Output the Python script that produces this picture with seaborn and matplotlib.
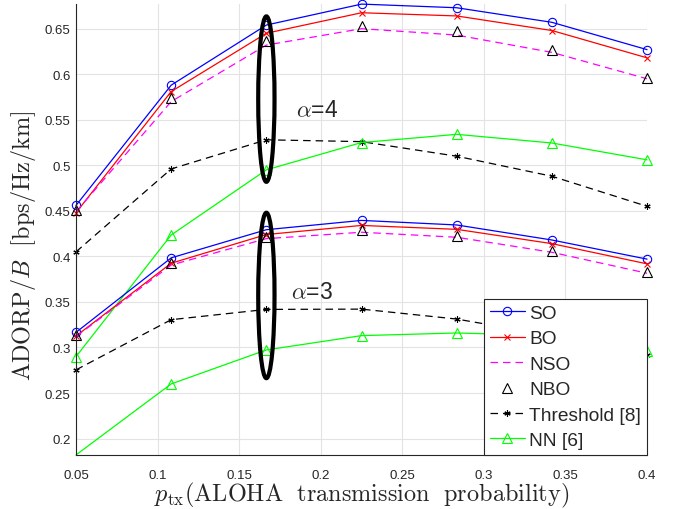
import numpy as np
import pandas as pd
import matplotlib
matplotlib.use("Agg")
import matplotlib.pyplot as plt
from matplotlib.patches import Ellipse
import seaborn as sns

# ---------------- data ----------------
p_tx = [0.05, 0.10833, 0.16667, 0.225, 0.28333, 0.34167, 0.4]

so_a4 = [0.456, 0.588, 0.654, 0.677, 0.673, 0.657, 0.627]
bo_a4 = [0.448, 0.581, 0.645, 0.6675, 0.664, 0.648, 0.618]
nso_a4 = [0.449, 0.570, 0.632, 0.650, 0.643, 0.624, 0.595]
nbo_a4 = [0.451, 0.574, 0.636, 0.653, 0.647, 0.627, 0.596]
thr_a4 = [0.405, 0.496, 0.528, 0.526, 0.510, 0.488, 0.455]
nn_a4 = [0.290, 0.4235, 0.495, 0.525, 0.534, 0.5245, 0.506]

so_a3 = [0.3166, 0.3984, 0.4293, 0.4395, 0.4345, 0.4180, 0.3970]
bo_a3 = [0.3126, 0.3925, 0.4240, 0.4340, 0.4297, 0.4140, 0.3918]
nso_a3 = [0.3120, 0.3905, 0.4195, 0.4265, 0.4210, 0.4045, 0.3815]
nbo_a3 = [0.3140, 0.3930, 0.4215, 0.4290, 0.4224, 0.4056, 0.3830]
thr_a3 = [0.2754, 0.3305, 0.3418, 0.3421, 0.3312, 0.3130, 0.2916]
nn_a3 = [0.1820, 0.2600, 0.2973, 0.3130, 0.3159, 0.3130, 0.2962]

legend_labels = ["SO", "BO", "NSO", "NBO", "Threshold [8]", "NN [6]"]
x_ticks = [0.05, 0.1, 0.15, 0.2, 0.25, 0.3, 0.35, 0.4]
x_tick_labels = ["0.05", "0.1", "0.15", "0.2", "0.25", "0.3", "0.35", "0.4"]
y_ticks = [0.2, 0.25, 0.3, 0.35, 0.4, 0.45, 0.5, 0.55, 0.6, 0.65]
y_tick_labels = ["0.2", "0.25", "0.3", "0.35", "0.4", "0.45", "0.5", "0.55", "0.6", "0.65"]

# ---------------- style ----------------
sns.set_style("white")
plt.rcParams["font.family"] = ["Liberation Sans", "DejaVu Sans"]
plt.rcParams["mathtext.fontset"] = "cm"

fig = plt.figure(figsize=(6.74, 5.10), dpi=100)
ax = fig.add_axes([0.1128, 0.106, 0.8472, 0.884])

styles = [
    dict(color="#0000ff", marker="o", markersize=6, linestyle="-"),
    dict(color="#ff0000", marker="x", markersize=5, linestyle="-"),
    dict(color="#ff00ff", marker=None, linestyle=(0, (6, 4))),
    dict(color="black", marker="^", markersize=7, linestyle="none"),
    dict(color="black", marker=(6, 2, 0), markersize=4.5, linestyle=(0, (6, 4))),
    dict(color="#00ff00", marker="^", markersize=7, linestyle="-"),
]
groups = [
    [so_a4, bo_a4, nso_a4, nbo_a4, thr_a4, nn_a4],
    [so_a3, bo_a3, nso_a3, nbo_a3, thr_a3, nn_a3],
]

handles = []
for gi, group in enumerate(groups):
    for si, (vals, st) in enumerate(zip(group, styles)):
        df = pd.DataFrame({"x": p_tx, "y": vals})
        kw = dict(color=st["color"], linewidth=0.9, linestyle=st["linestyle"])
        if st["marker"] is not None:
            kw.update(marker=st["marker"], markersize=st["markersize"],
                      markerfacecolor="none", markeredgecolor=st["color"],
                      markeredgewidth=0.8)
        if gi == 1 and si == 5:
            # first point lies on the lower axis edge: marker hidden there
            kw.update(markevery=list(range(1, len(p_tx))))
        n_before = len(ax.lines)
        sns.lineplot(data=df, x="x", y="y", ax=ax, sort=False, estimator=None,
                     legend=False, **kw)
        ax.lines[n_before].set_clip_on(False)
        if gi == 0:
            handles.append(ax.lines[n_before])

# ellipses
for cy in [0.5727, 0.3571]:
    ax.add_patch(Ellipse((p_tx[2], cy), width=0.0100, height=0.1816,
                         fill=False, edgecolor="black", linewidth=3.0, zorder=5))

ax.text(0.1847, 0.5544, r"$\alpha$=4", fontsize=16.5, ha="left", va="baseline")
ax.text(0.1816, 0.3538, r"$\alpha$=3", fontsize=16.5, ha="left", va="baseline")

ax.set_xlim(0.05, 0.4)
ax.set_ylim(0.182, 0.677)
ax.set_xticks(x_ticks)
ax.set_xticklabels(x_tick_labels)
ax.set_yticks(y_ticks)
ax.set_yticklabels(y_tick_labels)

ax.grid(True, color="#e3e3e3", linewidth=0.8)
ax.set_axisbelow(True)
for side in ["top", "right"]:
    ax.spines[side].set_visible(False)
for side in ["left", "bottom"]:
    ax.spines[side].set_color("#262626")
    ax.spines[side].set_linewidth(0.8)

ax.tick_params(axis="both", direction="in", length=5, width=0.8, color="#262626",
               labelsize=9.5, labelcolor="#262626")
ax.tick_params(axis="x", pad=10)
ax.tick_params(axis="y", pad=4)

ax.set_xlabel(r"$p_{\mathrm{tx}}(\mathrm{ALOHA\ \ transmission\ \ probability})$",
              fontsize=17.5, va="top")
ax.xaxis.set_label_coords(0.5, -0.056)
ax.set_ylabel(r"$\mathrm{ADORP}/B\ \ [\mathrm{bps}/\mathrm{Hz}/\mathrm{km}]$",
              fontsize=17.5)
ax.yaxis.set_label_coords(-0.067, 0.466)

leg = ax.legend(handles, legend_labels, loc="lower right", bbox_to_anchor=(1.0, 0.0),
                borderaxespad=0.0, fancybox=False, edgecolor="#262626", framealpha=1,
                fontsize=13.8, handlelength=1.8, handletextpad=0.25,
                labelspacing=0.42, borderpad=0.3)
leg.get_frame().set_linewidth(0.8)
leg.set_zorder(10)

fig.savefig("out.png", dpi=100)
